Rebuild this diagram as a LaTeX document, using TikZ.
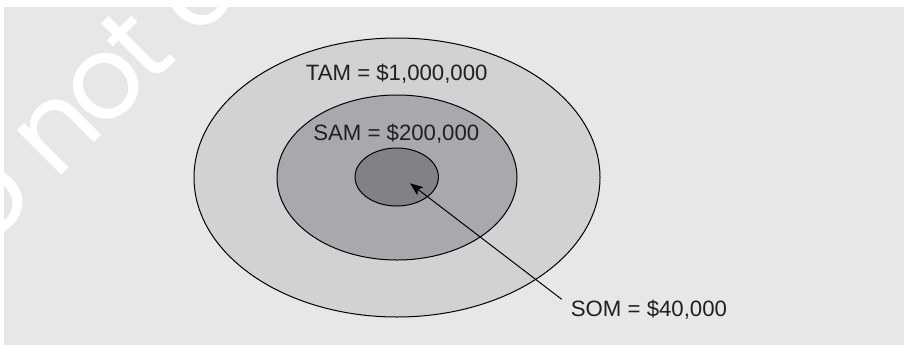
\documentclass[tikz,border=0pt]{standalone}
\usepackage{fontspec}
\setmainfont{Liberation Sans}
\newfontfamily\wmfont[LetterSpace=-6]{Poppins}
\usetikzlibrary{shapes.geometric,arrows.meta}
\definecolor{panelgray}{HTML}{E6E7E8}
\definecolor{tamgray}{HTML}{D1D2D4}
\definecolor{samgray}{HTML}{A7A9AC}
\definecolor{somgray}{HTML}{808285}
\definecolor{labeltext}{HTML}{231F20}
\tikzset{
  ring/.style={ellipse, draw=black, line width=1pt, inner sep=0pt},
  lbl/.style={text=labeltext, font=\fontsize{22.2pt}{26pt}\selectfont, inner sep=0pt},
  pointer/.style={draw=black, line width=1pt, -{Stealth[length=13pt,width=10pt,inset=3pt]}},
  watermark/.style={text=white, font=\wmfont\fontsize{115pt}{125pt}\selectfont, inner sep=0pt, rotate=45}
}
\begin{document}
\begin{tikzpicture}[x=1pt,y=-1pt]
\useasboundingbox (0,0) rectangle (904,346);
\clip (0,0) rectangle (904,346);
\fill[panelgray] (4,7) rectangle (904,345);
\node[watermark, anchor=base west] (wm) at (55.2,181.8) {\llap{Do }not copy};
\node[ring, fill=tamgray, minimum width=406pt, minimum height=279pt] (tam) at (397,177.5) {};
\node[ring, fill=samgray, minimum width=240pt, minimum height=165pt] (sam) at (397,177.5) {};
\node[ring, fill=somgray, minimum width=83.4pt, minimum height=58pt] (som) at (396.7,177) {};
\node[lbl, anchor=base] (tamlbl) at (396.7,80) {TAM = \$1,000,000};
\node[lbl, anchor=base] (samlbl) at (396.3,140) {SAM = \$200,000};
\node[lbl, anchor=base west] (somlbl) at (570.7,316.7) {SOM = \$40,000};
\coordinate (tail) at (561.7,299.3);
\coordinate (tip) at (410,183.3);
\draw[pointer] (tail) -- (tip);
\end{tikzpicture}
\end{document}
